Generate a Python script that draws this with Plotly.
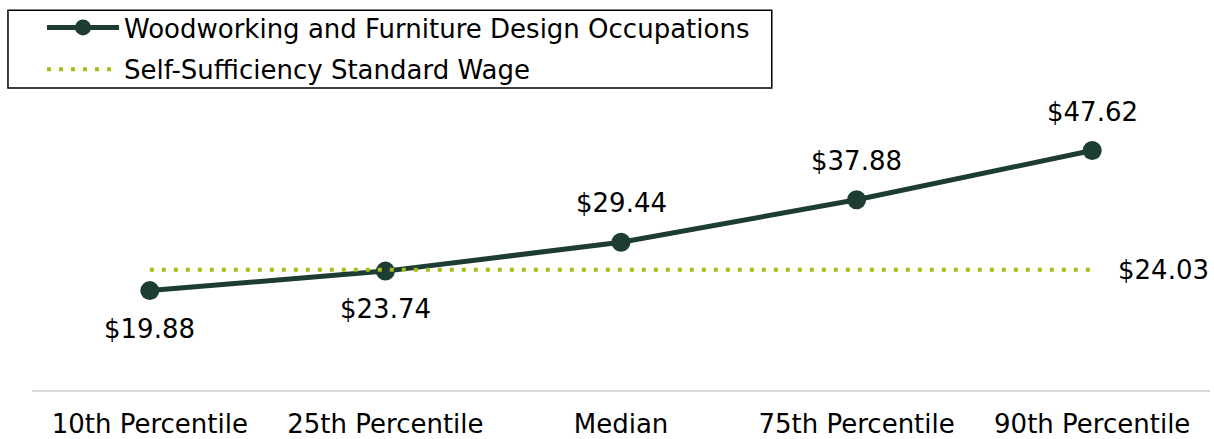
import plotly.graph_objects as go

categories = ["10th Percentile", "25th Percentile", "Median", "75th Percentile", "90th Percentile"]
wages = [19.88, 23.74, 29.44, 37.88, 47.62]
standard_wage = 24.03
series_name = "Woodworking and Furniture Design Occupations"
standard_name = "Self-Sufficiency Standard Wage"

label_shift = [-38, -38, 39, 39, 39]

FONT = "DejaVu Sans"
FS = 26
DARK = "#1d3c33"
LIME = "#a8bd1a"

fig = go.Figure()
fig.add_trace(go.Scatter(
    x=categories, y=wages, mode="lines+markers", name=series_name, legendgroup="a",
    line=dict(color=DARK, width=5), marker=dict(color=DARK, size=19),
))
fig.add_trace(go.Scatter(
    x=categories, y=[standard_wage] * len(categories), mode="lines", name=standard_name,
    legendgroup="b",
    line=dict(color=LIME, width=4, dash="4px,8px"),
))

for c, v, s in zip(categories, wages, label_shift):
    fig.add_annotation(x=c, y=v, text=f"${v:.2f}", showarrow=False, yshift=s,
                       font=dict(family=FONT, size=FS, color="#000000"))
fig.add_annotation(x=categories[-1], y=standard_wage, text=f"${standard_wage:.2f}",
                   showarrow=False, xanchor="left", xshift=24,
                   font=dict(family=FONT, size=FS, color="#000000"))

fig.add_shape(type="rect", xref="paper", yref="paper",
              x0=-0.0204, x1=0.628, y0=1.0, y1=1.257,
              line=dict(color="#000000", width=1.5))

fig.update_layout(
    width=1214, height=439,
    margin=dict(l=32, r=4, t=88, b=48, autoexpand=False),
    paper_bgcolor="white", plot_bgcolor="white",
    font=dict(family=FONT, size=FS, color="#000000"),
    showlegend=True,
    legend=dict(xref="container", yref="container",
                x=42 / 1214, y=1 - 4 / 439, xanchor="left", yanchor="top",
                bgcolor="rgba(0,0,0,0)", borderwidth=0,
                itemwidth=72, tracegroupgap=5,
                font=dict(family=FONT, size=FS, color="#000000")),
    xaxis=dict(range=[-0.5, 4.5], showgrid=False, zeroline=False, showline=False,
               ticks="", ticklabelstandoff=15,
               tickfont=dict(family=FONT, size=FS, color="#000000")),
    yaxis=dict(range=[0, 60], showgrid=False, zeroline=True, zerolinecolor="#d9d9d9",
               zerolinewidth=2, showticklabels=False, showline=False, ticks=""),
)

fig.write_html("out.html", config={"displayModeBar": False},
               post_script="document.body.style.margin='0';document.body.style.overflow='hidden';")
